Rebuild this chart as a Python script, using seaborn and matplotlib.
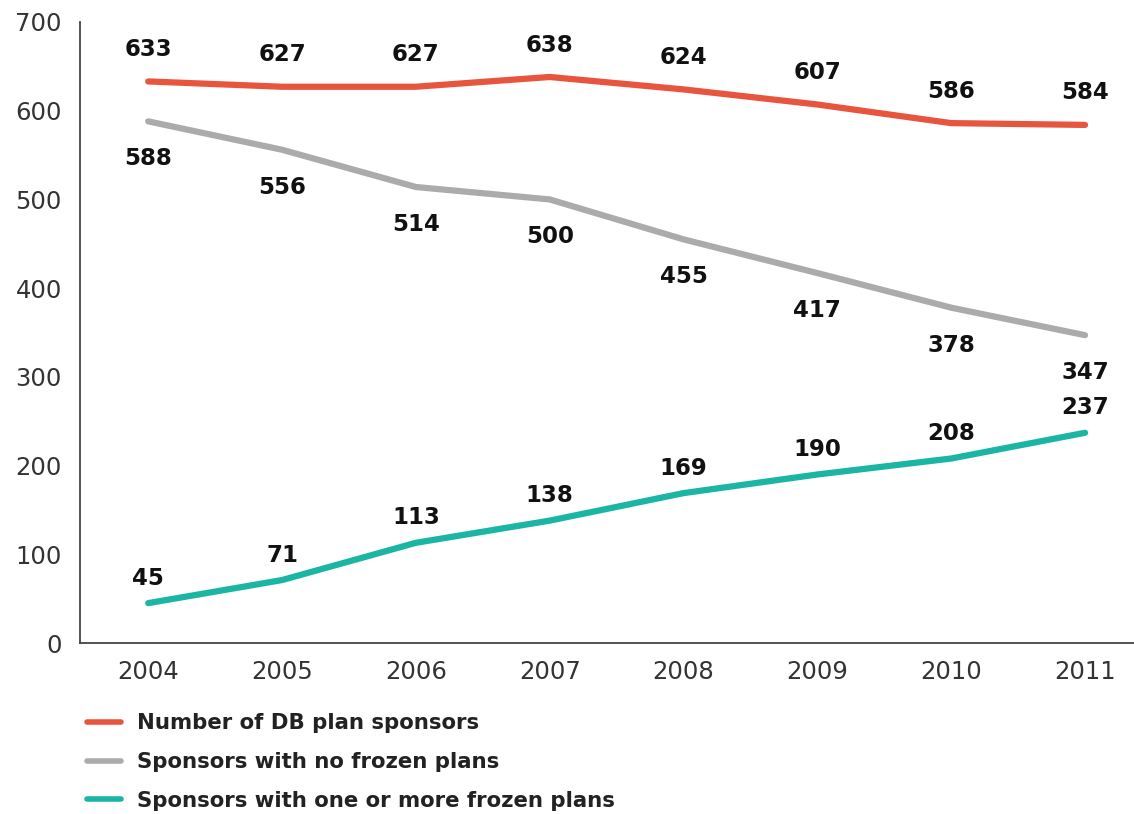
import matplotlib
matplotlib.use("Agg")
import matplotlib.pyplot as plt
import seaborn as sns
import pandas as pd
from matplotlib.lines import Line2D

years = [2004, 2005, 2006, 2007, 2008, 2009, 2010, 2011]
total_sponsors = [633, 627, 627, 638, 624, 607, 586, 584]
no_frozen = [588, 556, 514, 500, 455, 417, 378, 347]
frozen = [45, 71, 113, 138, 169, 190, 208, 237]
series_names = ["Number of DB plan sponsors", "Sponsors with no frozen plans",
                "Sponsors with one or more frozen plans"]
y_ticks = [0, 100, 200, 300, 400, 500, 600, 700]

colors = ["#E8553E", "#ABABAB", "#1AB5A3"]
label_offsets = [23, -27, 18]

sns.set_theme(style="white")
plt.rcParams['font.family'] = ['DejaVu Sans']

rows = []
for name, vals in zip(series_names, [total_sponsors, no_frozen, frozen]):
    for y, v in zip(years, vals):
        rows.append({"Year": y, "Value": v, "Series": name})
df = pd.DataFrame(rows)

fig = plt.figure(figsize=(11.34, 8.14), dpi=100)
ax = fig.add_axes([0.0705, 0.21, 0.93, 0.763])

sns.lineplot(data=df, x="Year", y="Value", hue="Series", palette=colors,
             hue_order=series_names, linewidth=4.5, ax=ax, legend=False,
             solid_capstyle="round")

for name, vals, off in zip(series_names, [total_sponsors, no_frozen, frozen], label_offsets):
    for y, v in zip(years, vals):
        ax.annotate(str(v), (y, v), xytext=(0, off), textcoords="offset points",
                    ha="center", va="center", fontsize=16.5, fontweight="bold",
                    color="#111111")

ax.set_xlim(2003.49, 2011.37)
ax.set_ylim(0, 700)
ax.set_yticks(y_ticks)
ax.set_xticks(years)
ax.set_xticklabels([str(y) for y in years])
ax.tick_params(axis="both", length=0, labelsize=17.5, colors="#333333")
ax.tick_params(axis="x", pad=12)
ax.tick_params(axis="y", pad=13)
ax.set_xlabel("")
ax.set_ylabel("")
for s in ["top", "right"]:
    ax.spines[s].set_visible(False)
for s in ["left", "bottom"]:
    ax.spines[s].set_color("#444444")
    ax.spines[s].set_linewidth(1.3)

handles = [Line2D([0], [0], color=c, linewidth=4) for c in colors]
fig.legend(handles, series_names, loc="upper left", bbox_to_anchor=(0.064, 0.142),
           frameon=False, handlelength=1.6, handletextpad=0.75, labelspacing=0.88,
           borderpad=0.2,
           prop={"size": 15.3, "weight": "bold"},
           labelcolor="#222222")

fig.savefig("out.png", dpi=100)
